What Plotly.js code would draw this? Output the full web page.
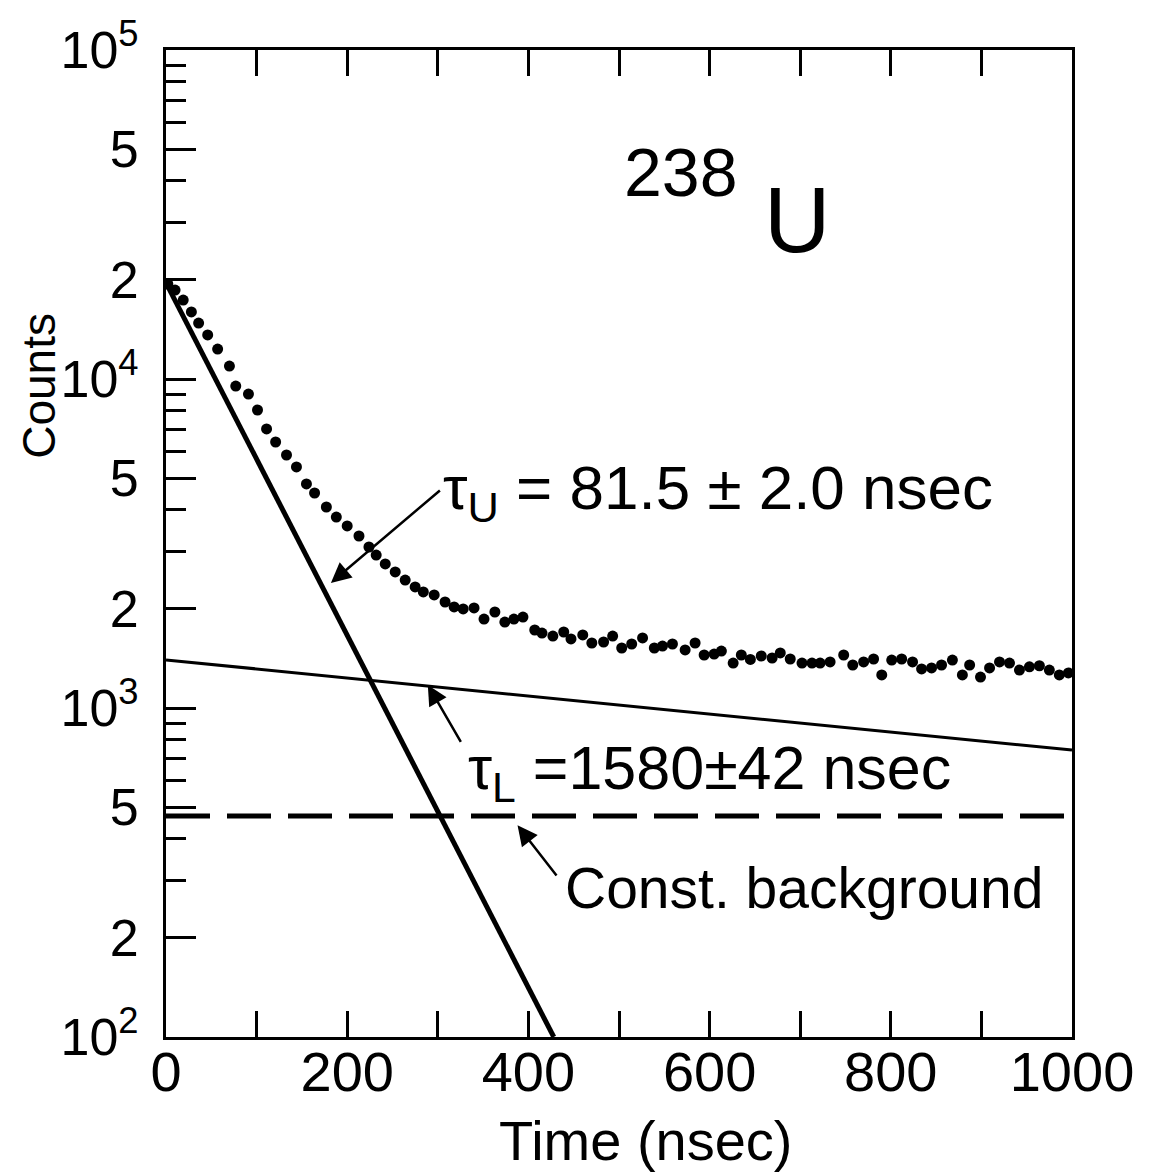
<!DOCTYPE html>
<html>
<head>
<meta charset="utf-8">
<script src="https://cdn.plot.ly/plotly-3.0.1.min.js"></script>
<style>html,body{margin:0;padding:0;background:#fff;}#chart{width:1159px;height:1172px;}</style>
</head>
<body>
<div id="chart"></div>
<script>
// Measured data points (time in nsec, counts)
const timeNs = [2,10,19,28,36,46,57,70,77,91,101,111,121,133,144,155,164,177,188,200,213,224,232,242,253,264,275,284,296,308,318,328,340,351,363,374,384,394,407,415,427,439,447,460,470,483,493,503,514,526,539,548,559,573,584,594,605,613,626,635,645,657,669,678,689,702,713,722,733,748,758,770,781,790,801,812,824,834,845,856,868,879,887,899,909,920,931,942,953,964,975,986,996];
const counts = [19450,18640,17380,15990,14790,13610,12330,10950,9520,9000,8050,7050,6435,5875,5403,4797,4503,4083,3806,3575,3333,3086,2917,2740,2591,2449,2333,2253,2206,2100,2028,2000,2014,1864,1958,1825,1864,1890,1726,1690,1655,1702,1621,1667,1576,1587,1655,1522,1565,1633,1522,1543,1565,1501,1576,1449,1459,1490,1370,1449,1405,1439,1419,1470,1409,1370,1370,1370,1380,1449,1351,1380,1409,1260,1399,1409,1380,1314,1324,1351,1399,1260,1351,1242,1324,1380,1370,1304,1334,1344,1304,1260,1278];

// Fitted components (end points)
const fastFitT = [0, 428];
const fastFitC = [19600, 100];
const slowFitT = [0, 1000];
const slowFitC = [1400, 745];
const bgT = [0, 1000];
const bgC = [470, 470];

// Axis ticks
const xTickVals = [0,200,400,600,800,1000];
const xTickText = ['0','200','400','600','800','1000'];
const yMajorVals = [100,200,500,1000,2000,5000,10000,20000,50000,100000];
const yMajorText = ['10<sup>2</sup>','2','5','10<sup>3</sup>','2','5','10<sup>4</sup>','2','5','10<sup>5</sup>'];
const yMinorVals = [300,400,600,700,800,900,3000,4000,6000,7000,8000,9000,30000,40000,60000,70000,80000,90000];

const FONT = 'Liberation Sans, Arial, sans-serif';

const traces = [
  {x: fastFitT, y: fastFitC, mode: 'lines', line: {color: '#000', width: 5}, hoverinfo: 'skip', showlegend: false},
  {x: slowFitT, y: slowFitC, mode: 'lines', line: {color: '#000', width: 3}, hoverinfo: 'skip', showlegend: false},
  {x: bgT, y: bgC, mode: 'lines', line: {color: '#000', width: 5, dash: '44px,17px'}, hoverinfo: 'skip', showlegend: false},
  {x: timeNs, y: counts, mode: 'markers', marker: {color: '#000', size: 11}, showlegend: false}
];

const layout = {
  width: 1159, height: 1172,
  margin: {l: 166, r: 87, t: 50, b: 135},
  paper_bgcolor: '#fff', plot_bgcolor: '#fff',
  font: {family: FONT, color: '#000'},
  showlegend: false,
  xaxis: {
    range: [0, 1000], tickmode: 'array', tickvals: xTickVals, ticktext: xTickText,
    ticks: 'inside', ticklen: 26, tickwidth: 3, tickcolor: '#000',
    minor: {dtick: 100, ticks: 'inside', ticklen: 26, tickwidth: 3, tickcolor: '#000', showgrid: false},
    showline: true, linewidth: 3, linecolor: '#000', mirror: 'ticks',
    showgrid: false, zeroline: false,
    tickfont: {size: 56, family: FONT},
    ticklabelstandoff: -16
  },
  yaxis: {
    type: 'log', range: [2, 5], tickmode: 'array', tickvals: yMajorVals, ticktext: yMajorText,
    ticks: 'inside', ticklen: 30, tickwidth: 3, tickcolor: '#000',
    minor: {tickmode: 'array', tickvals: yMinorVals, ticks: 'inside', ticklen: 20, tickwidth: 3, tickcolor: '#000', showgrid: false},
    showline: true, linewidth: 3, linecolor: '#000', mirror: true,
    showgrid: false, zeroline: false,
    tickfont: {size: 52, family: FONT},
    ticklabelstandoff: 14
  },
  annotations: [
    {xref: 'paper', yref: 'paper', x: -0.141, y: 0.66, text: 'Counts', textangle: -90, showarrow: false, font: {size: 46, family: FONT}, xanchor: 'center', yanchor: 'middle'},
    {xref: 'paper', yref: 'paper', x: 0.53, y: -0.105, text: 'Time (nsec)', showarrow: false, font: {size: 56, family: FONT}, xanchor: 'center', yanchor: 'middle'},
    {x: 568, y: Math.log10(42540), text: '238', showarrow: false, font: {size: 68, family: FONT}, xanchor: 'center', yanchor: 'middle'},
    {x: 696, y: Math.log10(30500), text: 'U', showarrow: false, font: {size: 92, family: FONT}, xanchor: 'center', yanchor: 'middle'},
    {x: 303, y: Math.log10(4540), text: 'τ<sub>U</sub> = 81.5 ± 2.0 nsec', showarrow: false, font: {size: 62, family: FONT}, xanchor: 'left', yanchor: 'middle'},
    {x: 331, y: Math.log10(638), text: 'τ<sub>L</sub> =1580±42 nsec', showarrow: false, font: {size: 61, family: FONT}, xanchor: 'left', yanchor: 'middle'},
    {x: 438, y: Math.log10(284), text: 'Const. background', showarrow: false, font: {size: 57, family: FONT}, xanchor: 'left', yanchor: 'middle'},
    {x: 182, y: Math.log10(2400), ax: 112, ay: -95, axref: 'pixel', ayref: 'pixel', showarrow: true, arrowhead: 2, arrowsize: 1.6, arrowwidth: 2.5, arrowcolor: '#000'},
    {x: 289, y: Math.log10(1175), ax: 36, ay: 62, axref: 'pixel', ayref: 'pixel', showarrow: true, arrowhead: 2, arrowsize: 1.6, arrowwidth: 2.5, arrowcolor: '#000'},
    {x: 388, y: Math.log10(440), ax: 42, ay: 54, axref: 'pixel', ayref: 'pixel', showarrow: true, arrowhead: 2, arrowsize: 1.6, arrowwidth: 2.5, arrowcolor: '#000'}
  ]
};
layout.annotations.slice(7).forEach(a => { a.text = ' '; });

Plotly.newPlot('chart', traces, layout, {staticPlot: true, displayModeBar: false});
</script>
</body>
</html>
